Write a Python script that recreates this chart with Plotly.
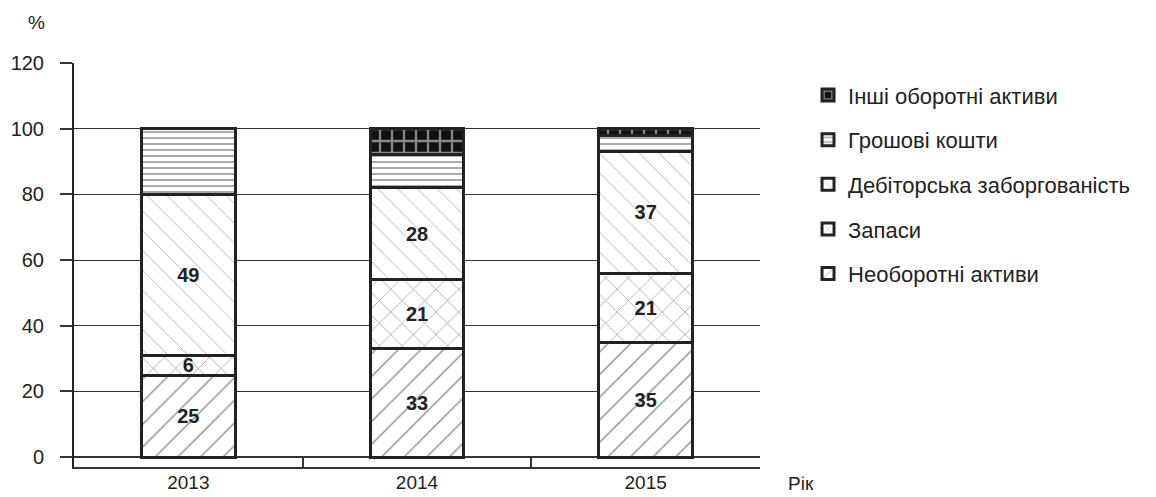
import plotly.graph_objects as go

years = ["2013", "2014", "2015"]

# Asset structure, % of total (bottom to top of each stack)
non_current = [25, 33, 35]
inventories = [6, 21, 21]
receivables = [49, 28, 37]
cash = [20, 10, 5]
other_current = [0, 8, 2]

series = [
    ("Необоротні активи", non_current, "/", "#222", "white", 0.09, 16, True),
    ("Запаси", inventories, "x", "#222", "white", 0.08, 16, True),
    ("Дебіторська заборгованість", receivables, "\\", "#555", "white", 0.06, 14, True),
    ("Грошові кошти", cash, "-", "#444", "white", 0.3, 6, False),
    ("Інші оборотні активи", other_current, "+", "white", "#111", 0.35, 12, False),
]

fig = go.Figure()
for i, (name, vals, shape, fg, bg, sol, size, labelled) in enumerate(series):
    fig.add_trace(go.Bar(
        x=years,
        y=vals,
        name=name,
        legendgroup=name,
        legendrank=1000 - i,  # top of the stack listed first
        width=0.41,
        marker=dict(
            color=bg,
            line=dict(color="#222", width=3),
            pattern=dict(shape=shape, fgcolor=fg, bgcolor=bg, solidity=sol, size=size),
        ),
        text=[str(v) for v in vals] if labelled else None,
        textposition="inside" if labelled else "none",
        insidetextanchor="middle",
        textangle=0,
        textfont=dict(family="Liberation Sans, Arial", size=20, color="#222", weight="bold"),
        hoverinfo="skip",
    ))

fig.update_layout(
    barmode="stack",
    width=1156,
    height=497,
    margin=dict(l=74, r=396, t=63, b=30, autoexpand=False),
    plot_bgcolor="white",
    paper_bgcolor="white",
    font=dict(family="Liberation Sans, Arial", size=20, color="#222"),
    uniformtext=dict(minsize=20, mode="show"),
    showlegend=True,
    legend=dict(
        x=1.07, y=0.972, xanchor="left", yanchor="top",
        traceorder="grouped",
        tracegroupgap=13,
        font=dict(size=22, color="#222"),
        itemwidth=30,
    ),
    xaxis=dict(
        type="category",
        range=[-0.5, 2.5],
        automargin=False,
        showline=True, linecolor="#333", linewidth=1.5,
        ticks="inside", ticklen=10, tickcolor="#333", tickwidth=1.5,
        tickson="boundaries",
        ticklabelstandoff=-3,
        showgrid=False,
        tickfont=dict(size=19),
    ),
    yaxis=dict(
        range=[-3, 120],
        automargin=False,
        tickvals=[0, 20, 40, 60, 80, 100, 120],
        showgrid=True, gridcolor="#333", gridwidth=1.2,
        zeroline=True, zerolinecolor="#333", zerolinewidth=1.5,
        showline=True, linecolor="#222", linewidth=2,
        ticks="outside", ticklen=12, tickcolor="#333", tickwidth=1.5,
        ticklabelstandoff=12,
        tickfont=dict(size=20),
    ),
    annotations=[
        dict(text="%", xref="paper", yref="paper", x=-0.054, y=1.1,
             xanchor="center", yanchor="middle", showarrow=False, font=dict(size=19)),
        dict(text="Рік", xref="paper", yref="paper", x=1.06, y=-0.04,
             xanchor="center", yanchor="middle", showarrow=False, font=dict(size=19)),
    ],
)

fig.write_html("out.html")
